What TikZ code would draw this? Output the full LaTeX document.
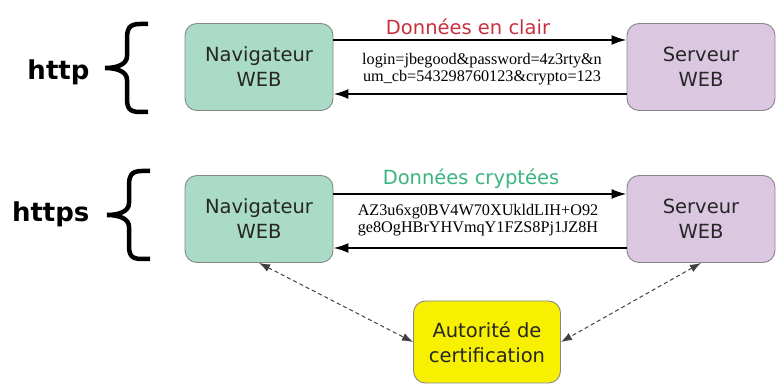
\documentclass[tikz,border=0pt]{standalone}
\usepackage{fontspec}
\setmainfont{DejaVu Sans}
\newfontfamily\serifdata{Liberation Serif}
\usepackage{xcolor}
\usetikzlibrary{arrows.meta}

\definecolor{vertnav}{RGB}{170,219,198}
\definecolor{mauveserv}{RGB}{219,199,224}
\definecolor{jaunecert}{RGB}{247,240,0}
\definecolor{bordure}{RGB}{135,135,135}
\definecolor{rougeclair}{RGB}{200,48,62}
\definecolor{vertcrypt}{RGB}{58,180,128}

\tikzset{
    boite/.style={draw=bordure, line width=0.9pt, rounded corners=12pt,
        minimum width=148pt, minimum height=87pt, align=center,
        text=black!85, font=\fontsize{19.5}{25}\selectfont},
    flux/.style={line width=2pt, -{Latex[length=15pt,width=10pt]}},
    certif/.style={line width=1pt, black!75, dash pattern=on 4pt off 3pt,
        {Latex[length=11pt,width=8pt]}-{Latex[length=11pt,width=8pt]}},
    donnees/.style={align=center, inner sep=0pt,
        font=\serifdata\fontsize{16.2}{16.5}\selectfont},
    etiquette/.style={font=\fontsize{19.5}{24}\selectfont},
    protocole/.style={font=\bfseries\fontsize{26}{30}\selectfont}
}

% accolade dont la pointe est en #1
\newcommand{\accolade}[1]{
    \begin{scope}[shift={(#1)}]
        \draw[line width=4.5pt] (43,44) -- (35,44) .. controls (24,44) and (22,39) .. (22,29)
            -- (22,12) .. controls (22,4) and (13,0) .. (0,0)
            .. controls (13,0) and (22,-4) .. (22,-12)
            -- (22,-30) .. controls (22,-40) and (24,-44) .. (35,-44) -- (43,-44);
    \end{scope}
}

\begin{document}
\begin{tikzpicture}[x=1pt, y=1pt]
    \useasboundingbox (0,0) rectangle (782,385);

    % http
    \node[protocole, anchor=base east] (http) at (93,305) {http};
    \accolade{105,317}

    \node[boite, fill=vertnav] (nav1) at (259,318) {Navigateur\\WEB};
    \node[boite, fill=mauveserv] (serv1) at (701,318) {Serveur\\WEB};

    \draw[flux] ([yshift=27pt]nav1.east) -- node[etiquette, above=1pt, xshift=-12pt, text=rougeclair] (clair) {Données en clair} ([yshift=27pt]serv1.west);
    \draw[flux] ([yshift=-27pt]serv1.west) -- ([yshift=-27pt]nav1.east);
    \node[donnees] (trame1) at (482,316) {login=jbegood\&password=4z3rty\&n\\um\_cb=543298760123\&crypto=123};

    % https
    \node[protocole, anchor=base east] (https) at (93,163) {https};
    \accolade{107,170}

    \node[boite, fill=vertnav] (nav2) at (259,166) {Navigateur\\WEB};
    \node[boite, fill=mauveserv] (serv2) at (701,166) {Serveur\\WEB};

    \draw[flux] ([yshift=25pt]nav2.east) -- node[etiquette, above=1pt, xshift=-9pt, text=vertcrypt] (crypt) {Données cryptées} ([yshift=25pt]serv2.west);
    \draw[flux] ([yshift=-29pt]serv2.west) -- ([yshift=-29pt]nav2.east);
    \node[donnees] (trame2) at (478,165) {AZ3u6xg0BV4W70XUkldLIH+O92\\ge8OgHBrYHVmqY1FZS8Pj1JZ8H};

    % autorite
    \node[boite, fill=jaunecert, minimum width=147pt, minimum height=82pt] (autorite) at (487,43) {Autorité de\\certification};
    \draw[certif] (nav2.south) -- (autorite.west);
    \draw[certif] (serv2.south) -- (autorite.east);
\end{tikzpicture}
\end{document}
